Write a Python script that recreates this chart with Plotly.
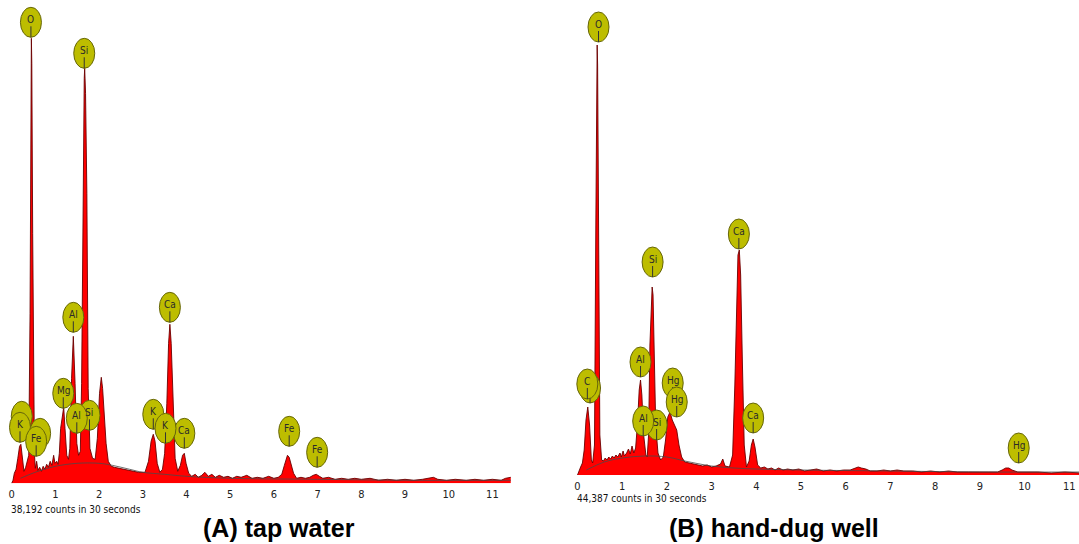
import plotly.graph_objects as go

# ---------------- DATA ----------------
# Panel A: tap water  (energy keV, intensity in arbitrary units)
a_kev = [0.00, 0.03, 0.06, 0.10, 0.14, 0.18, 0.21, 0.24, 0.28, 0.32, 0.36,
         0.39, 0.42, 0.44, 0.45, 0.46, 0.48, 0.50, 0.52, 0.54, 0.57, 0.60,
         0.64, 0.68, 0.72, 0.76, 0.80, 0.84, 0.88, 0.92, 0.96, 0.99, 1.03,
         1.06, 1.09, 1.12, 1.16, 1.19, 1.22, 1.26, 1.30, 1.33, 1.37, 1.41,
         1.45, 1.49, 1.53, 1.57, 1.60, 1.63, 1.66, 1.67, 1.69, 1.72, 1.75,
         1.79, 1.85, 1.91, 1.96, 2.01, 2.05, 2.08, 2.11, 2.16, 2.21, 2.28,
         2.35, 2.45, 2.60, 2.75, 2.90, 3.05, 3.13, 3.19, 3.24, 3.28, 3.33,
         3.39, 3.45, 3.50, 3.55, 3.59, 3.62, 3.65, 3.69, 3.74, 3.80, 3.86,
         3.91, 3.95, 3.99, 4.05, 4.12, 4.20, 4.27, 4.35, 4.42, 4.50, 4.58,
         4.66, 4.75, 4.85, 4.95, 5.05, 5.15, 5.25, 5.38, 5.50, 5.62, 5.75,
         5.88, 6.00, 6.10, 6.18, 6.24, 6.28, 6.31, 6.35, 6.39, 6.45, 6.52,
         6.62, 6.72, 6.82, 6.90, 6.97, 7.04, 7.12, 7.25, 7.40, 7.55, 7.70,
         7.85, 8.00, 8.20, 8.40, 8.60, 8.80, 9.00, 9.20, 9.40, 9.55, 9.65,
         9.75, 9.95, 10.15, 10.40, 10.60, 10.80, 11.00, 11.20, 11.30, 11.42]
a_cts = [0, 3, 10, 14, 25, 37, 39, 25, 12, 16, 22,
         28, 170, 370, 445, 420, 250, 90, 30, 15, 22, 13,
         16, 12, 17, 14, 19, 16, 22, 18, 28, 20, 22,
         19, 30, 55, 70, 76, 55, 28, 24, 35, 105, 147,
         100, 40, 28, 32, 100, 300, 405, 415, 390, 290, 95,
         35, 25, 24, 45, 90, 106, 95, 70, 40, 22, 17,
         16, 15, 14, 12, 11, 11, 22, 42, 49, 42, 20,
         11, 14, 30, 80, 140, 159, 140, 80, 25, 12, 18,
         28, 30, 20, 10, 7, 9, 6, 8, 11, 7, 9,
         6, 8, 6, 7, 5, 7, 6, 8, 5, 6, 5,
         7, 5, 6, 9, 18, 25, 28, 26, 20, 10, 5,
         6, 5, 6, 8, 9, 7, 5, 6, 4, 5, 4,
         5, 4, 5, 3, 4, 3, 4, 3, 4, 5, 6,
         4, 3, 4, 3, 4, 3, 4, 3, 5, 6]
a_bg_kev = [0.20, 0.60, 1.00, 1.50, 2.00, 2.30, 2.70, 3.00, 3.50, 4.00, 5.00, 7.00, 9.00, 11.42]
a_bg_cts = [5, 12, 17, 20, 20, 18, 14, 11, 9, 7, 5, 4, 3, 3]
a_lab_el = ["K", "K", "Fe", "Fe", "O", "Si", "Al", "Mg", "Si", "Al",
            "Ca", "K", "Ca", "K", "Fe", "Fe"]
a_lab_kev = [0.23, 0.19, 0.65, 0.56, 0.44, 1.66, 1.41, 1.18, 1.78, 1.49,
             3.62, 3.24, 3.95, 3.52, 6.35, 6.99]
a_lab_cts = [67, 56, 50, 42, 461, 430, 166, 90, 68, 65,
             176, 69, 50, 55, 52, 31]
a_lab_hidden = [True, False, True, False, False, False, False, False, False, False,
                False, False, False, False, False, False]

# Panel B: hand-dug well
b_kev = [0.00, 0.03, 0.07, 0.11, 0.15, 0.19, 0.23, 0.27, 0.31, 0.34, 0.38,
         0.41, 0.43, 0.44, 0.45, 0.47, 0.50, 0.54, 0.58, 0.62, 0.66, 0.70,
         0.74, 0.78, 0.82, 0.86, 0.90, 0.95, 0.98, 1.02, 1.05, 1.10, 1.14,
         1.18, 1.22, 1.26, 1.30, 1.34, 1.38, 1.41, 1.44, 1.48, 1.53, 1.56,
         1.59, 1.62, 1.65, 1.67, 1.69, 1.72, 1.75, 1.80, 1.86, 1.92, 1.97,
         2.02, 2.07, 2.12, 2.18, 2.22, 2.27, 2.33, 2.40, 2.50, 2.60, 2.70,
         2.80, 2.90, 3.00, 3.10, 3.20, 3.25, 3.30, 3.40, 3.47, 3.52, 3.56,
         3.59, 3.62, 3.65, 3.69, 3.73, 3.78, 3.84, 3.89, 3.93, 3.97, 4.03,
         4.10, 4.18, 4.26, 4.34, 4.42, 4.50, 4.60, 4.70, 4.82, 4.95, 5.08,
         5.20, 5.35, 5.50, 5.65, 5.80, 5.95, 6.10, 6.20, 6.28, 6.35, 6.45,
         6.55, 6.70, 6.85, 7.00, 7.15, 7.30, 7.50, 7.70, 7.90, 8.10, 8.30,
         8.50, 8.75, 9.00, 9.20, 9.40, 9.50, 9.58, 9.65, 9.72, 9.85, 10.00,
         10.30, 10.60, 10.90, 11.25]
b_cts = [0, 4, 8, 12, 25, 55, 68, 50, 15, 12, 30,
         250, 400, 430, 410, 250, 40, 15, 14, 17, 15, 18,
         16, 19, 17, 20, 18, 22, 18, 24, 19, 22, 26,
         21, 29, 22, 27, 50, 85, 95, 80, 40, 20, 18,
         40, 130, 180, 188, 180, 120, 50, 22, 15, 18, 35,
         58, 63, 55, 48, 45, 30, 18, 13, 12, 11, 10,
         9, 10, 8, 9, 11, 16, 9, 8, 20, 90, 180,
         220, 225, 200, 110, 30, 8, 14, 30, 36, 28, 10,
         7, 8, 6, 7, 5, 7, 5, 6, 5, 6, 4,
         5, 6, 4, 5, 4, 5, 5, 7, 8, 7, 6,
         4, 4, 5, 4, 5, 4, 4, 3, 4, 3, 4,
         3, 3, 3, 3, 3, 5, 7, 7, 5, 3, 3,
         3, 2, 3, 2]
b_bg_kev = [0.20, 0.60, 1.00, 1.50, 2.00, 2.40, 3.00, 3.50, 4.00, 5.00, 7.00, 9.00, 11.25]
b_bg_cts = [5, 13, 17, 19, 18, 14, 9, 7, 6, 5, 4, 3, 3]
b_lab_el = ["C", "C", "O", "Si", "Al", "Hg", "Hg", "Si", "Al", "Ca", "Ca", "Hg"]
b_lab_kev = [0.28, 0.22, 0.47, 1.68, 1.41, 2.13, 2.22, 1.77, 1.47, 3.61, 3.93, 9.87]
b_lab_cts = [87, 91, 448, 213, 113, 92, 73, 50, 54, 241, 57, 27]
b_lab_hidden = [True, False, False, False, False, False, False, False, False, False, False, False]

tick_vals = list(range(0, 12))
tick_text = [str(v) for v in tick_vals]

count_notes = ["38,192 counts in 30 seconds", "44,387 counts in 30 seconds"]
panel_titles = ["(A) tap water", "(B) hand-dug well"]

# ---------------- LAYOUT / STYLE ----------------
W, H = 1079, 544
NARROW = "Liberation Sans Narrow, Arial Narrow, DejaVu Sans Condensed, sans-serif"
BOLD = "Liberation Sans, Arial, sans-serif"

# pixel geometry per panel: x of 0 keV, px per keV, left, right, baseline, note y, title x
geo = [dict(x0=11.7, ppk=43.7, left=8, right=512, base=483.3, note=509, tx=278.5),
       dict(x0=577.5, ppk=44.7, left=574, right=1079, base=475.0, note=498, tx=774)]

fig = go.Figure()

panels = [
    (a_kev, a_cts, a_bg_kev, a_bg_cts, a_lab_el, a_lab_kev, a_lab_cts, a_lab_hidden),
    (b_kev, b_cts, b_bg_kev, b_bg_cts, b_lab_el, b_lab_kev, b_lab_cts, b_lab_hidden),
]

shapes = []
annotations = []
for i, (kev, cts, bgk, bgc, lel, lk, lc, lh) in enumerate(panels):
    g = geo[i]
    xa = "x" if i == 0 else "x2"
    ya = "y" if i == 0 else "y2"
    fig.add_trace(go.Scatter(x=kev, y=cts, mode="lines", fill="tozeroy",
                             fillcolor="#FF0000", line=dict(color="#6a0000", width=0.9),
                             xaxis=xa, yaxis=ya, hoverinfo="skip", showlegend=False))
    fig.add_trace(go.Scatter(x=bgk, y=bgc, mode="lines",
                             line=dict(color="#4a4a4a", width=0.8, shape="spline"),
                             xaxis=xa, yaxis=ya, hoverinfo="skip", showlegend=False))
    for el, k, c, hid in zip(lel, lk, lc, lh):
        shapes.append(dict(type="circle", xref=xa, yref=ya,
                           xsizemode="pixel", ysizemode="pixel",
                           xanchor=k, yanchor=c, x0=-10.5, x1=10.5, y0=-15, y1=15,
                           fillcolor="#BDBD00", line=dict(color="#66660a", width=1)))
        shapes.append(dict(type="line", xref=xa, yref=ya,
                           xsizemode="pixel", ysizemode="pixel",
                           xanchor=k, yanchor=c, x0=0, x1=0, y0=-4, y1=-15,
                           line=dict(color="#333333", width=1)))
        if not hid:
            annotations.append(dict(x=k, y=c, xref=xa, yref=ya, text=el, showarrow=False,
                                    yshift=3, font=dict(family=NARROW, size=10, color="#2a2a2a")))
    annotations.append(dict(x=(g["left"] + 1) / W, y=1 - g["note"] / H,
                            xref="paper", yref="paper", xanchor="left", yanchor="middle",
                            text=count_notes[i], showarrow=False,
                            font=dict(family=NARROW, size=10, color="#111111")))
    annotations.append(dict(x=g["tx"] / W, y=1 - 528 / H, xref="paper", yref="paper",
                            text="<b>" + panel_titles[i] + "</b>", showarrow=False,
                            xanchor="center", yanchor="middle",
                            font=dict(family=BOLD, size=25, color="#000000")))


def xaxis_cfg(g):
    return dict(domain=[g["left"] / W, g["right"] / W],
                range=[(g["left"] - g["x0"]) / g["ppk"], (g["right"] - g["x0"]) / g["ppk"]],
                tickvals=tick_vals, ticktext=tick_text, ticks="", showgrid=False,
                zeroline=False, showline=False, ticklabelstandoff=3, fixedrange=True,
                tickfont=dict(family=NARROW, size=11, color="#222222"))


def yaxis_cfg(g, anchor):
    b = g["base"]
    return dict(domain=[(H - b) / H, 1], range=[0, b], visible=False, fixedrange=True,
                showgrid=False, zeroline=False, anchor=anchor)


fig.update_layout(
    width=W, height=H, autosize=False,
    margin=dict(l=0, r=0, t=0, b=0),
    paper_bgcolor="white", plot_bgcolor="white",
    xaxis=dict(**xaxis_cfg(geo[0]), anchor="y"),
    yaxis=yaxis_cfg(geo[0], "x"),
    xaxis2=dict(**xaxis_cfg(geo[1]), anchor="y2"),
    yaxis2=yaxis_cfg(geo[1], "x2"),
    shapes=shapes, annotations=annotations,
)

# remove the browser's default 8px page margin so the figure fills the window exactly
fig.write_html("out.html", config={"displayModeBar": False},
               post_script="document.body.style.margin='0';document.body.style.overflow='hidden';")
